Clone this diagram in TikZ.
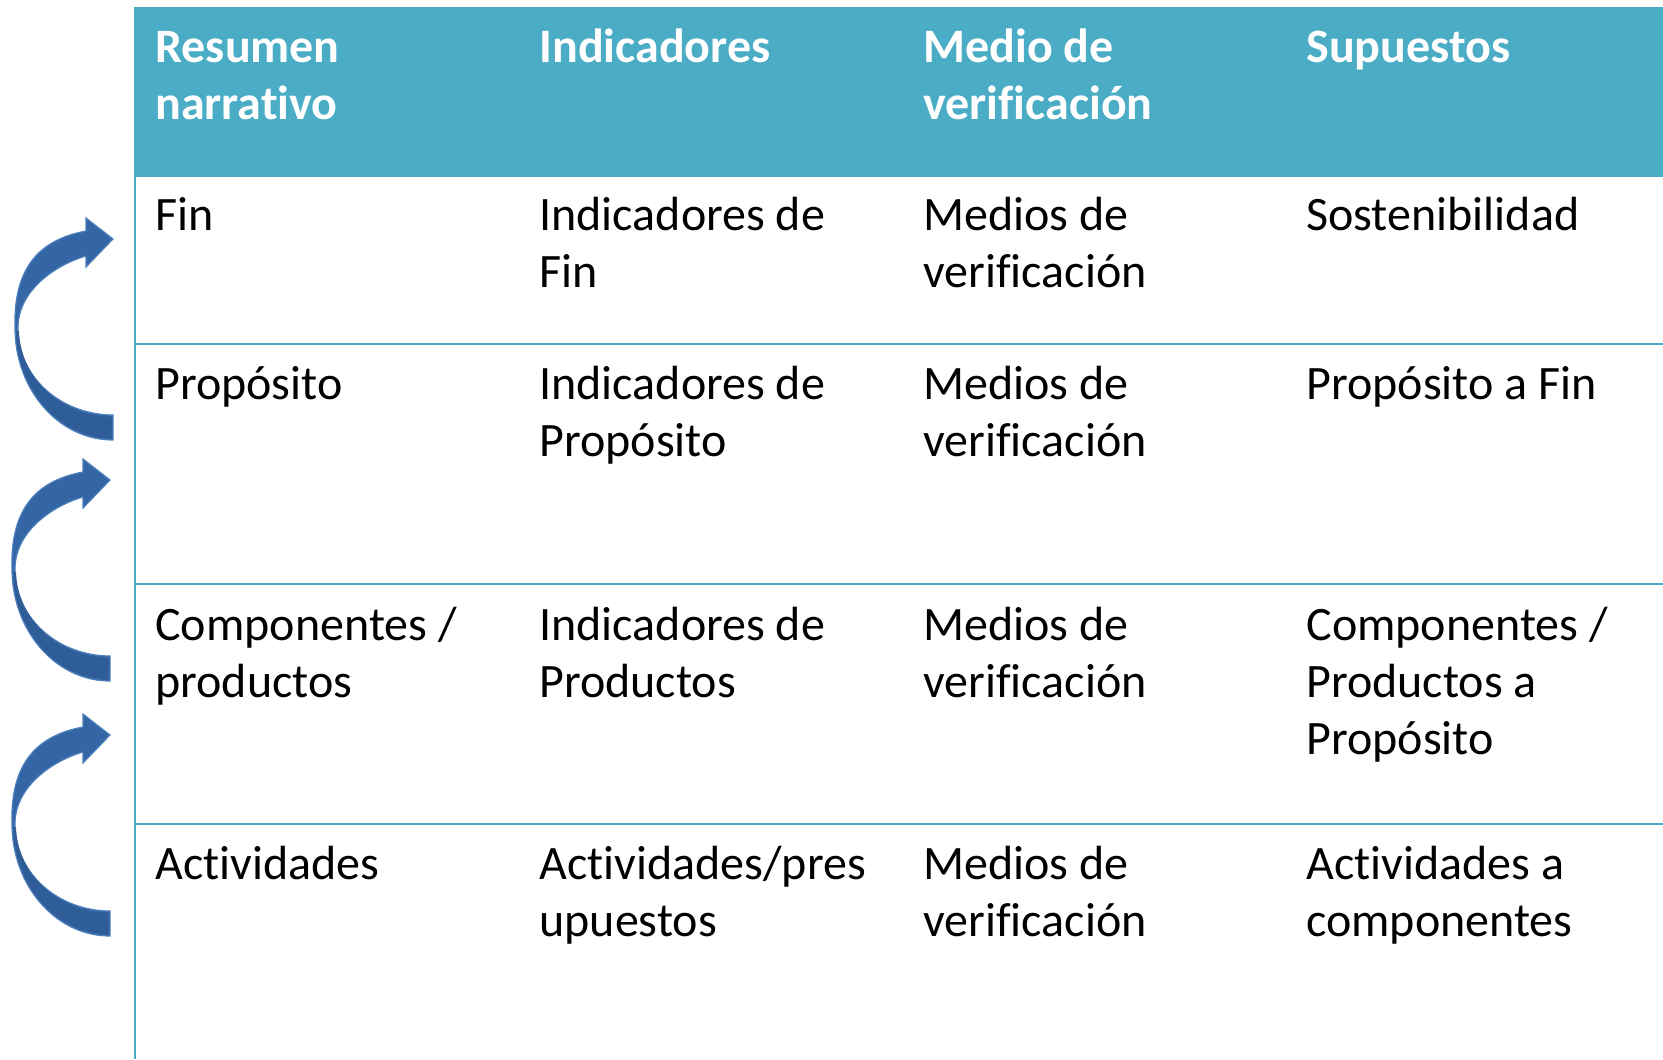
\documentclass[tikz,border=0pt]{standalone}
\usepackage{fontspec}
\setmainfont{Carlito}[Ligatures=NoCommon]
\definecolor{hdr}{HTML}{4BACC6}
\definecolor{arr}{RGB}{52,101,164}
\definecolor{arrdk}{RGB}{46,93,152}
\definecolor{arrlt}{RGB}{78,128,188}
\tikzset{
  % base west = baseline of the LAST line; line pitch = 57 units
  cell/.style={anchor=base west, inner sep=0pt, align=left, text=black,
    font=\fontsize{24}{28.5}\selectfont},
  hcell/.style={cell, text=white, font=\bfseries\fontsize{24}{28.5}\selectfont},
  rule/.style={draw=hdr, line width=1pt},
  curvarrow/.pic={
    \fill[arr, draw=arrlt, line width=0.6pt]
      (0,0) -- (-27,-21) -- (-27,-8)
      .. controls (-70,0) and (-100,25) .. (-98,89)
      .. controls (-98,150) and (-55,201) .. (0,201)
      -- (0,176)
      .. controls (-50,176) and (-95,140) .. (-95,89)
      .. controls (-95,50) and (-55,25) .. (-27,17)
      -- (-27,28) -- cycle;
    \fill[arrdk]
      (-97,92) .. controls (-96,150) and (-55,199) .. (-1,199)
      -- (-1,178)
      .. controls (-50,178) and (-93,140) .. (-94,92) -- cycle;
  }
}
\begin{document}
\begin{tikzpicture}[x=0.5pt,y=-0.5pt]
\useasboundingbox (0,0) rectangle (1663,1059);
% header
\fill[hdr] (134,7) rectangle (1663,177);
% grid lines
\coordinate (vt) at (135,177);
\coordinate (vb) at (135,1059);
\coordinate (l1a) at (134,344); \coordinate (l1b) at (1663,344);
\coordinate (l2a) at (134,584); \coordinate (l2b) at (1663,584);
\coordinate (l3a) at (134,824); \coordinate (l3b) at (1663,824);
\draw[rule] (vt) -- (vb);
\draw[rule] (l1a) -- (l1b);
\draw[rule] (l2a) -- (l2b);
\draw[rule] (l3a) -- (l3b);
% header text (first baseline 63)
\node[hcell] (h1) at (155,120) {Resumen\\narrativo};
\node[hcell] (h2) at (539,63) {Indicadores};
\node[hcell] (h3) at (923,120) {Medio de\\verificación};
\node[hcell] (h4) at (1306,63) {Supuestos};
% row 1 (first baseline 230)
\node[cell] (a1) at (155,230) {Fin};
\node[cell] (a2) at (539,287) {Indicadores de\\Fin};
\node[cell] (a3) at (923,287) {Medios de\\verificación};
\node[cell] (a4) at (1306,230) {Sostenibilidad};
% row 2 (first baseline 399)
\node[cell] (b1) at (155,399) {Propósito};
\node[cell] (b2) at (539,456) {Indicadores de\\Propósito};
\node[cell] (b3) at (923,456) {Medios de\\verificación};
\node[cell] (b4) at (1306,399) {Propósito a Fin};
% row 3 (first baseline 640)
\node[cell] (c1) at (155,697) {Componentes /\\productos};
\node[cell] (c2) at (539,697) {Indicadores de\\Productos};
\node[cell] (c3) at (923,697) {Medios de\\verificación};
\node[cell] (c4) at (1306,754) {Componentes /\\Productos a\\Propósito};
% row 4 (first baseline 879)
\node[cell] (d1) at (155,879) {Actividades};
\node[cell] (d2) at (539,936) {Actividades/pres\\upuestos};
\node[cell] (d3) at (923,936) {Medios de\\verificación};
\node[cell] (d4) at (1306,936) {Actividades a\\componentes};
% curved arrows
\pic at (113,239) {curvarrow};
\pic at (110,480) {curvarrow};
\pic at (110,735) {curvarrow};
\end{tikzpicture}
\end{document}
